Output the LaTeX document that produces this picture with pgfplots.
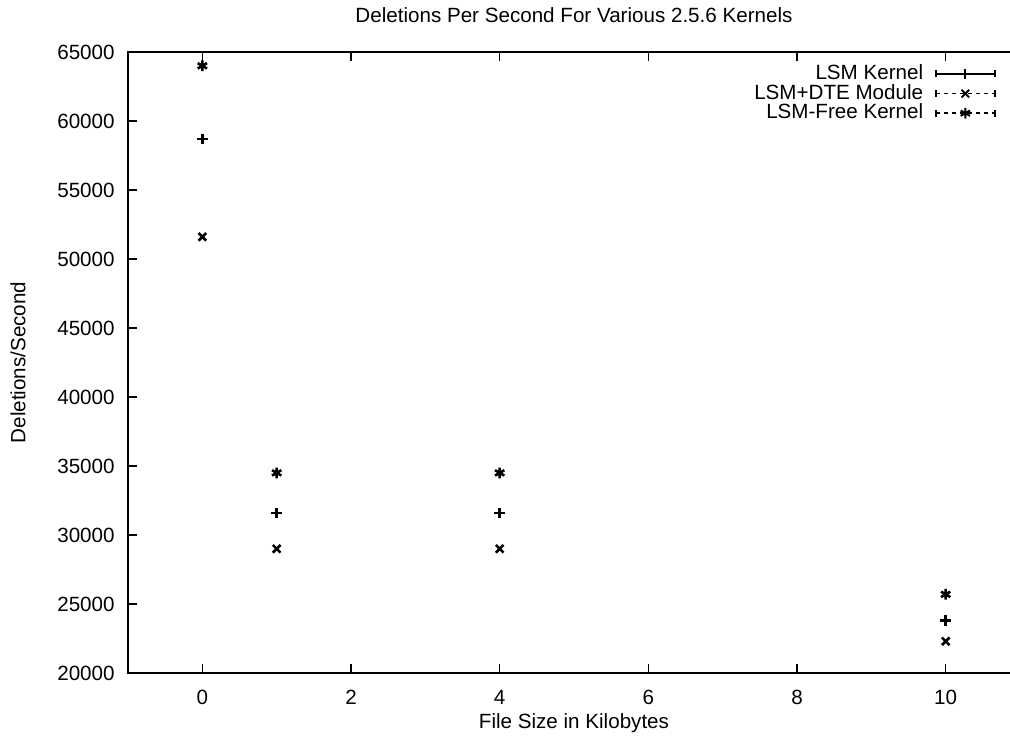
\documentclass[border=0pt]{standalone}
\usepackage{fontspec}
\setmainfont{Liberation Sans}
\usepackage{pgfplots}
\pgfplotsset{compat=1.18}
% legend samples: error-bar style line with end caps and the point mark in the middle
\newcommand{\legsample}[2]{%
  \draw[line width=0.7bp,#1] (0bp,0bp) -- (29.5bp,0bp);
  \draw[line width=0.7bp] (0bp,-1.75bp) -- (0bp,1.75bp) (29.5bp,-1.75bp) -- (29.5bp,1.75bp);
  \draw[line width=1bp, mark size=2.7bp] plot[mark=#2] coordinates {(14.75bp,0bp)};}
\begin{document}
\begin{tikzpicture}[font=\fontsize{10.3bp}{12bp}\selectfont]
\useasboundingbox (-64bp,-32.5bp) rectangle (441bp,336.5bp);
\begin{axis}[
    at={(0,0)}, anchor=south west,
    scale only axis,
    width=446bp, height=310.5bp,
    xmin=-1, xmax=11,
    ymin=20000, ymax=65000,
    xtick={0,2,...,10},
    ytick={20000,25000,...,65000},
    scaled y ticks=false,
    /pgf/number format/1000 sep={},
    /pgf/number format/assume math mode=true,
    tick align=inside,
    major tick length=4.5bp,
    axis line style={line width=1bp},
    every tick/.style={black, line width=0.8bp},
    yticklabel style={inner sep=0pt, anchor=east, xshift=-6.5bp},
    xticklabel style={inner sep=0pt, anchor=north, yshift=-8.5bp},
    title={Deletions Per Second For Various 2.5.6 Kernels},
    title style={at={([yshift=12.5bp]axis description cs:0.5,1)}, anchor=center, inner sep=0pt},
    xlabel={File Size in Kilobytes},
    xlabel style={at={([yshift=-25bp]axis description cs:0.5,0)}, anchor=center, inner sep=0pt},
    ylabel={Deletions/Second},
    ylabel style={at={([xshift=-55bp]axis description cs:0,0.5)}, anchor=center, inner sep=0pt},
    legend cell align=right,
    legend plot pos=right,
    legend style={at={(0.973,0.981)}, anchor=north east, draw=none, fill=none,
        inner sep=0pt, row sep=0pt, column sep=6bp,
        nodes={inner sep=0pt, text height=7.8bp, text depth=2bp}},
]
\addplot[only marks, mark=+, mark size=2.7bp, line width=1.3bp,
    legend image code/.code={\legsample{solid}{+}}]
    coordinates {(0,58700) (1,31600) (4,31600) (10,23800)};
\addlegendentry{LSM Kernel}
\addplot[only marks, mark=x, mark size=2.7bp, line width=1.3bp,
    legend image code/.code={\legsample{dash pattern=on 2bp off 2bp}{x}}]
    coordinates {(0,51600) (1,29000) (4,29000) (10,22300)};
\addlegendentry{LSM+DTE Module}
\addplot[only marks, mark=asterisk, mark size=2.7bp, line width=1.3bp,
    legend image code/.code={\legsample{dash pattern=on 2bp off 2bp}{asterisk}}]
    coordinates {(0,64000) (1,34500) (4,34500) (10,25700)};
\addlegendentry{LSM-Free Kernel}
\end{axis}
\end{tikzpicture}
\end{document}
